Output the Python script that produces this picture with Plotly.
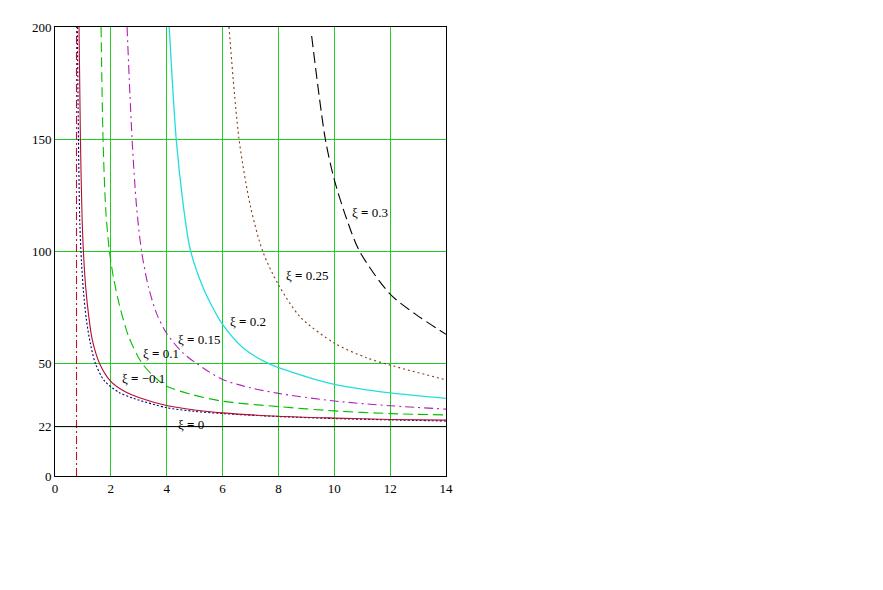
import plotly.graph_objects as go

# ---- data ----
x_ticks = [0, 2, 4, 6, 8, 10, 12, 14]
y_ticks = [0, 22, 50, 100, 150, 200]
ref_level = 22

# red solid
red_x = [0.86, 0.91, 0.97, 1.03, 1.1, 1.2, 1.33, 1.6, 1.98, 2.5, 3.0, 4.0, 5.0, 6, 8, 10, 12, 14]
red_y = [200, 150, 115, 97, 84, 72, 61, 50, 42.4, 37.6, 35.0, 31.4, 29.4, 28.1, 26.6, 25.8, 25.2, 24.9]
# blue dotted
blue_x = [0.80, 0.84, 0.89, 0.95, 1.02, 1.12, 1.25, 1.45, 1.77, 2.28, 2.81, 4.0, 5, 6, 8, 10, 12, 14]
blue_y = [200, 150, 112, 95, 82, 70, 60, 50, 42.4, 37.3, 34.6, 30.4, 28.8, 27.8, 26.5, 25.6, 25.0, 24.5]
# green dashed
green_x = [1.65, 1.72, 1.82, 1.95, 2.1, 2.31, 2.64, 3.1, 3.53, 4.0, 4.84, 6, 8, 10, 12, 14]
green_y = [200, 150, 118, 100, 88, 76, 62, 50.5, 44.5, 40.0, 36.5, 33.3, 30.9, 29.0, 27.8, 27.2]
# magenta dash-dot
mag_x = [2.58, 2.76, 2.92, 3.1, 3.35, 3.65, 4.0, 4.54, 5.08, 6, 7, 8, 10, 12, 14]
mag_y = [200, 150, 120, 100, 84, 72, 63.5, 55.3, 50.0, 43.0, 39.3, 36.8, 33.4, 31.3, 29.8]
# cyan solid
cyan_x = [4.09, 4.34, 4.6, 4.84, 5.3, 5.67, 6, 6.74, 7.7, 9.1, 10, 12, 14]
cyan_y = [200, 150, 120, 101, 84, 74.5, 67.5, 57, 49.8, 43.8, 40.8, 37.0, 34.6]
# brown dotted
brown_x = [6.23, 6.59, 7.0, 7.44, 8, 8.77, 10, 11.15, 12, 14]
brown_y = [200, 150, 120, 100, 85.2, 71.0, 59.2, 52.7, 49.4, 42.8]
# black dashed
black_x = [9.19, 9.68, 10.0, 10.44, 10.91, 12, 12.93, 14]
black_y = [196, 150, 132, 114.6, 100, 81, 71.9, 63.1]
# red dash-dot vertical asymptote
vert_x = [0.77, 0.77]
vert_y = [0, 200]

# labels
label_text = ["ξ = 0.3", "ξ = 0.25", "ξ = 0.2", "ξ = 0.15", "ξ = 0.1", "ξ = \u22120.1", "ξ = 0"]
label_x = [10.55, 8.2, 6.2, 4.34, 3.08, 2.31, 4.34]
label_y = [117.2, 89.3, 68.7, 60.9, 54.5, 43.6, 23.0]

fig = go.Figure()

def add(x, y, color, dash, width=1.1):
    fig.add_trace(go.Scatter(x=x, y=y, mode="lines",
                             line=dict(color=color, dash=dash, width=width, shape="spline", smoothing=0.8),
                             hoverinfo="skip", showlegend=False))

add(vert_x, vert_y, "#c0102a", "8px,3px,2px,3px")
add(blue_x, blue_y, "#000080", "2px,2px")
add(red_x, red_y, "#b0102a", "solid")
add(green_x, green_y, "#00c000", "10px,5px")
add(mag_x, mag_y, "#b020b0", "9px,4px,2px,4px")
add(cyan_x, cyan_y, "#22dddd", "solid", 1.3)
add(brown_x, brown_y, "#8b3a1a", "2px,3px")
add(black_x, black_y, "#000000", "11px,5px")

for t, x, y in zip(label_text, label_x, label_y):
    fig.add_annotation(x=x, y=y, text=t.replace("=", "<b>=</b>"), showarrow=False,
                       xanchor="left", yanchor="middle",
                       font=dict(family="Liberation Serif", size=13, color="black"))

fig.add_hline(y=ref_level, line=dict(color="black", width=1))

axis_common = dict(showline=True, linecolor="black", linewidth=1, mirror=True,
                   gridcolor="#22cc22", gridwidth=1, zeroline=False, ticks="",
                   tickfont=dict(family="Liberation Serif", size=13, color="black"))

fig.update_xaxes(range=[0, 14], tickvals=x_ticks, ticktext=[str(v) for v in x_ticks], **axis_common)
fig.update_yaxes(range=[0, 200], tickvals=y_ticks, ticktext=[str(v) for v in y_ticks], **axis_common)

fig.update_layout(width=883, height=590,
                  margin=dict(l=47, r=445, t=16, b=122),
                  plot_bgcolor="white", paper_bgcolor="white")

fig.write_html("out.html")
